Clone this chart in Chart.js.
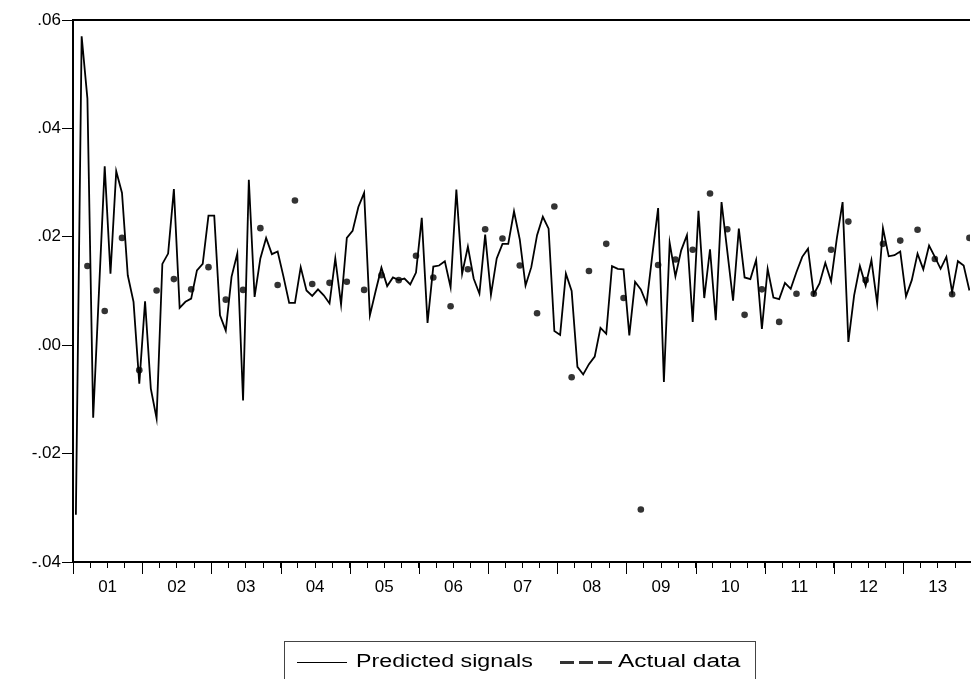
<!DOCTYPE html>
<html>
<head>
<meta charset="utf-8">
<script src="https://cdn.jsdelivr.net/npm/chart.js@4.4.1/dist/chart.umd.min.js"></script>
<style>
  html, body { margin: 0; padding: 0; background: #fff; overflow: hidden; }
  #wrap { position: relative; width: 974px; height: 679px; }
  #legend {
    position: absolute; left: 284px; top: 641px; width: 470px; height: 60px;
    border: 1px solid #444; font-family: "Liberation Sans", Arial, sans-serif;
    font-size: 18px; line-height: 18px; color: #000;
  }
  #legend .txt { position: absolute; top: 10px; white-space: nowrap; transform-origin: left top; }
  #legend .solid { position: absolute; left: 12px; top: 20px; width: 50px; height: 1px; background: #000; }
  #legend .dash {
    position: absolute; left: 275px; top: 19px; width: 53px; height: 3px;
    background: repeating-linear-gradient(to right, #333 0 14px, transparent 14px 19px);
  }
</style>
</head>
<body>
<div id="wrap">
  <canvas id="chart" width="974" height="679"></canvas>
  <div id="legend">
    <div class="solid"></div>
    <div class="txt" style="left:71px; transform: scaleX(1.29);">Predicted signals</div>
    <div class="dash"></div>
    <div class="txt" style="left:333px; transform: scaleX(1.36);">Actual data</div>
  </div>
</div>
<script>
// anni sull'asse x (2001-2013), dati mensili
const yearLabels = ['01', '02', '03', '04', '05', '06', '07', '08', '09', '10', '11', '12', '13'];
const yTicks = [-0.04, -0.02, 0.00, 0.02, 0.04, 0.06];

// segnali previsti, un valore per mese (156 mesi)
const predicted = [
  -0.0313, 0.0570, 0.0455, -0.0134, 0.0098, 0.0330, 0.0132, 0.0321, 0.0281, 0.0129, 0.0080, -0.0071,
  0.0081, -0.0080, -0.0135, 0.0150, 0.0169, 0.0288, 0.0069, 0.0080, 0.0086, 0.0138, 0.0150, 0.0239,
  0.0239, 0.0055, 0.0027, 0.0126, 0.0169, -0.0102, 0.0305, 0.0089, 0.0160, 0.0198, 0.0168, 0.0173,
  0.0127, 0.0078, 0.0078, 0.0144, 0.0101, 0.0091, 0.0103, 0.0092, 0.0077, 0.0160, 0.0075, 0.0198,
  0.0211, 0.0255, 0.0281, 0.0055, 0.0100, 0.0143, 0.0109, 0.0125, 0.0120, 0.0123, 0.0112, 0.0134,
  0.0235, 0.0041, 0.0145, 0.0147, 0.0155, 0.0107, 0.0287, 0.0132, 0.0182, 0.0123, 0.0095, 0.0204,
  0.0093, 0.0160, 0.0187, 0.0187, 0.0247, 0.0195, 0.0110, 0.0144, 0.0203, 0.0237, 0.0215, 0.0026,
  0.0019, 0.0132, 0.0100, -0.0040, -0.0054, -0.0035, -0.0021, 0.0032, 0.0021, 0.0146, 0.0141, 0.0140,
  0.0018, 0.0117, 0.0103, 0.0077, 0.0167, 0.0253, -0.0068, 0.0189, 0.0127, 0.0175, 0.0203, 0.0043,
  0.0248, 0.0087, 0.0177, 0.0046, 0.0264, 0.0173, 0.0082, 0.0215, 0.0125, 0.0122, 0.0157, 0.0030,
  0.0141, 0.0088, 0.0085, 0.0115, 0.0104, 0.0135, 0.0163, 0.0178, 0.0094, 0.0114, 0.0152, 0.0118,
  0.0197, 0.0264, 0.0006, 0.0092, 0.0146, 0.0110, 0.0157, 0.0077, 0.0216, 0.0164, 0.0166, 0.0173,
  0.0090, 0.0120, 0.0169, 0.0140, 0.0184, 0.0163, 0.0141, 0.0163, 0.0098, 0.0155, 0.0147, 0.0101
];

// dati reali, trimestrali (ultimo mese di ogni trimestre)
const actual = [
  0.0146, 0.0063, 0.0198, -0.0046, 0.0101, 0.0122, 0.0103, 0.0144, 0.0084, 0.0102, 0.0216, 0.0111, 0.0267,
  0.0113, 0.0115, 0.0117, 0.0102, 0.0129, 0.0120, 0.0165, 0.0125, 0.0072, 0.0140, 0.0214, 0.0197, 0.0147,
  0.0059, 0.0256, -0.0059, 0.0137, 0.0187, 0.0087, -0.0303, 0.0148, 0.0158, 0.0176, 0.0280, 0.0214, 0.0056,
  0.0103, 0.0043, 0.0095, 0.0095, 0.0176, 0.0228, 0.0120, 0.0187, 0.0193, 0.0213, 0.0159, 0.0094, 0.0198
];

// ogni osservazione sta al centro del suo mese
const predPoints = predicted.map((v, i) => ({ x: i + 0.5, y: v }));
const actualPoints = actual.map((v, q) => ({ x: q * 3 + 2.5, y: v }));

// tacche lunghe per gli anni + linea superiore del riquadro
const framePlugin = {
  id: 'frame',
  afterDraw(chart) {
    const { ctx, chartArea, scales } = chart;
    const x = scales.x;
    ctx.save();
    ctx.strokeStyle = '#000';
    ctx.lineWidth = 1;
    for (let m = 0; m <= yearLabels.length * 12; m += 12) {
      const px = Math.round(x.getPixelForValue(m)) + 0.5;
      if (px > chartArea.right + 1) continue;
      ctx.beginPath();
      ctx.moveTo(px, chartArea.bottom);
      ctx.lineTo(px, chartArea.bottom + 12);
      ctx.stroke();
    }
    ctx.lineWidth = 2;
    ctx.beginPath();
    ctx.moveTo(chartArea.left, chartArea.top);
    ctx.lineTo(chartArea.right, chartArea.top);
    ctx.stroke();
    ctx.restore();
  }
};

const font = { family: '"Liberation Sans", Arial, sans-serif', size: 17 };

new Chart(document.getElementById('chart'), {
  type: 'line',
  data: {
    datasets: [
      {
        label: 'Predicted signals',
        data: predPoints,
        borderColor: '#000',
        borderWidth: 1.8,
        pointRadius: 0,
        tension: 0
      },
      {
        label: 'Actual data',
        data: actualPoints,
        showLine: false,
        pointRadius: 3.3,
        pointBackgroundColor: '#333',
        pointBorderWidth: 0
      }
    ]
  },
  options: {
    responsive: false,
    devicePixelRatio: 1,
    animation: false,
    layout: { padding: { top: 20, right: 0, bottom: 0, left: 0 } },
    plugins: { legend: { display: false }, tooltip: { enabled: false } },
    scales: {
      x: {
        type: 'linear',
        min: 0,
        max: 155.6,
        afterFit: s => { s.height = 117; },
        afterBuildTicks: s => {
          const t = [];
          for (let m = 0; m < 156; m += 3) t.push({ value: m });
          s.ticks = t;
        },
        ticks: {
          autoSkip: false,
          maxRotation: 0,
          padding: 9,
          color: '#000',
          font: font,
          callback: v => (v % 12 === 6 ? yearLabels[(v - 6) / 12] : '')
        },
        grid: { drawOnChartArea: false, tickLength: 6, tickColor: '#000', tickWidth: 1 },
        border: { color: '#000', width: 2 }
      },
      y: {
        min: yTicks[0],
        max: yTicks[yTicks.length - 1],
        afterFit: s => { s.width = 73; },
        afterBuildTicks: s => { s.ticks = yTicks.map(v => ({ value: v })); },
        ticks: {
          padding: 1,
          color: '#000',
          font: font,
          callback: v => (v < 0 ? '-' : '') + Math.abs(v).toFixed(2).replace(/^0/, '')
        },
        grid: { drawOnChartArea: false, tickLength: 11, tickColor: '#000', tickWidth: 1 },
        border: { color: '#000', width: 2 }
      }
    }
  },
  plugins: [framePlugin]
});
</script>
</body>
</html>
